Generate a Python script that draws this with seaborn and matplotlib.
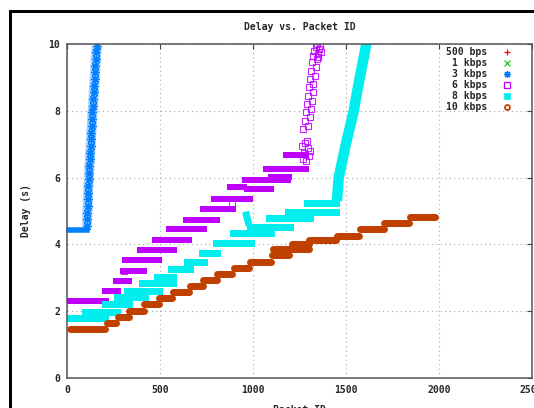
import matplotlib
matplotlib.use("Agg")
import matplotlib.pyplot as plt
from matplotlib.patches import Rectangle
import seaborn as sns
import pandas as pd

# ---------------- data ----------------
series_labels = ["500 bps", "1 kbps", "3 kbps", "6 kbps", "8 kbps", "10 kbps"]
series_colors = ["#ff0000", "#00c000", "#0080ff", "#c000ff", "#00eeee", "#c04000"]

# 10 kbps : staircase segments (start id, end id, delay)
k10_x0 = [16, 216, 275, 332, 413, 494, 571, 661, 733, 808, 898, 985, 1101, 1106, 1209, 1300, 1452, 1578, 1707, 1844]
k10_x1 = [207, 266, 333, 414, 494, 566, 656, 733, 805, 890, 979, 1096, 1195, 1303, 1300, 1446, 1572, 1707, 1842, 1980]
k10_y = [1.46, 1.66, 1.84, 2.02, 2.22, 2.39, 2.57, 2.74, 2.93, 3.11, 3.30, 3.48, 3.67, 3.85, 4.02, 4.12, 4.26, 4.45, 4.65, 4.82]

# 8 kbps : staircase segments
k8_x0 = [16, 98, 206, 269, 323, 404, 486, 557, 647, 724, 799, 891, 985, 1089, 1191, 1290, 965]
k8_x1 = [207, 270, 333, 417, 494, 572, 572, 661, 737, 805, 988, 1096, 1200, 1308, 1446, 1446, 975]
k8_y0 = [1.79, 1.99, 2.21, 2.43, 2.61, 2.84, 3.03, 3.25, 3.48, 3.73, 4.03, 4.33, 4.53, 4.78, 4.98, 5.23, 4.88]
k8_y1 = [1.79, 1.99, 2.21, 2.43, 2.61, 2.84, 3.03, 3.25, 3.48, 3.73, 4.03, 4.33, 4.53, 4.78, 4.98, 5.23, 4.66]
# 8 kbps : final steep rise
k8_rise_x = [1452, 1462, 1500, 1543, 1560, 1572, 1614]
k8_rise_y = [5.30, 6.00, 7.00, 8.00, 8.55, 8.90, 10.10]

# 6 kbps : staircase segments
k6_x0 = [14, 204, 264, 300, 312, 393, 474, 551, 639, 731, 789, 875, 968, 956, 1099, 1072, 1177]
k6_x1 = [209, 272, 335, 416, 496, 574, 658, 739, 807, 892, 982, 951, 1095, 1188, 1197, 1287, 1287]
k6_y = [2.31, 2.61, 2.91, 3.21, 3.53, 3.83, 4.13, 4.45, 4.74, 5.05, 5.35, 5.71, 5.65, 5.93, 6.03, 6.26, 6.68]
# 6 kbps : scattered squares
k6_sq_x = [304, 888,
           1262, 1282, 1298, 1276, 1300, 1288, 1268, 1308, 1290,
           1272, 1298, 1280, 1306, 1284, 1312, 1290, 1318, 1296, 1322, 1300, 1326, 1306,
           1332, 1312, 1338, 1318, 1344, 1324, 1350, 1330, 1356, 1338, 1362, 1344, 1352, 1366]
k6_sq_y = [3.21, 5.23,
           6.95, 7.05, 6.90, 6.75, 6.65, 6.50, 6.55, 6.80, 7.10,
           7.45, 7.55, 7.70, 7.80, 7.95, 8.05, 8.20, 8.30, 8.45, 8.55, 8.70, 8.80, 8.95,
           9.05, 9.20, 9.30, 9.45, 9.55, 9.65, 9.70, 9.80, 9.85, 9.90, 9.95, 10.00, 9.60, 9.75]

# 3 kbps : flat start then steep rise
k3_x0 = [10]
k3_x1 = [108]
k3_y = [4.43]
k3_rise_x = [107, 108, 110, 111, 112, 114, 115, 117, 119, 121, 123, 125, 127, 129,
             131, 133, 135, 137, 140, 142, 144, 146, 148, 151, 153, 155, 157, 160]
k3_rise_y = [4.55, 4.75, 4.95, 5.15, 5.35, 5.55, 5.75, 5.95, 6.15, 6.35, 6.55, 6.75, 6.95, 7.15,
             7.35, 7.55, 7.75, 7.95, 8.15, 8.35, 8.55, 8.75, 8.95, 9.15, 9.35, 9.55, 9.75, 9.95]

x_ticks = [0, 500, 1000, 1500, 2000, 2500]
y_ticks = [0, 2, 4, 6, 8, 10]

# ---------------- helpers ----------------
def seg_frame(x0, x1, y0, y1=None):
    if y1 is None:
        y1 = y0
    rows = []
    for i, (a, b, c, d) in enumerate(zip(x0, x1, y0, y1)):
        rows.append({"seg": i, "x": a, "y": c})
        rows.append({"seg": i, "x": b, "y": d})
    return pd.DataFrame(rows)

# ---------------- figure ----------------
sns.set_style("white")
FONT = ["DejaVu Sans Mono", "DejaVu Sans"]
plt.rcParams["font.family"] = FONT
plt.rcParams["font.weight"] = "bold"
plt.rcParams["font.size"] = 7

W, H = 534, 408
fig = plt.figure(figsize=(W / 100, H / 100), dpi=100)
fig.patch.set_facecolor("white")
ax = fig.add_axes([67 / W, (H - 378) / H, (531.7 - 67) / W, (378 - 44) / H])
ax.set_facecolor("white")

PX = 0.72  # points per pixel

# 6 kbps bars
sns.lineplot(data=seg_frame(k6_x0, k6_x1, k6_y), x="x", y="y", units="seg", estimator=None,
             sort=False, color=series_colors[3], lw=6 * PX, solid_capstyle="projecting",
             legend=False, ax=ax, clip_on=False, zorder=3)
# 8 kbps bars
sns.lineplot(data=seg_frame(k8_x0, k8_x1, k8_y0, k8_y1), x="x", y="y", units="seg", estimator=None,
             sort=False, color=series_colors[4], lw=7 * PX, solid_capstyle="projecting",
             legend=False, ax=ax, clip_on=False, zorder=4)
sns.lineplot(x=k8_rise_x, y=k8_rise_y, sort=False, estimator=None, color=series_colors[4],
             lw=10.5 * PX, solid_capstyle="butt", legend=False, ax=ax, zorder=4)
# 10 kbps bars
sns.lineplot(data=seg_frame(k10_x0, k10_x1, k10_y), x="x", y="y", units="seg", estimator=None,
             sort=False, color=series_colors[5], lw=7 * PX, solid_capstyle="round",
             legend=False, ax=ax, clip_on=False, zorder=5)
# 6 kbps squares
ax.plot(k6_sq_x, k6_sq_y, ls="none", marker="s", ms=4.6, mfc="none",
        mec=series_colors[3], mew=0.8, zorder=3, alpha=0.85)
# 3 kbps
sns.lineplot(data=seg_frame(k3_x0, k3_x1, k3_y), x="x", y="y", units="seg", estimator=None,
             sort=False, color=series_colors[2], lw=5.5 * PX, solid_capstyle="projecting",
             legend=False, ax=ax, clip_on=False, zorder=3)
sns.lineplot(x=k3_rise_x, y=k3_rise_y, sort=False, estimator=None, color="#a8d0ff",
             lw=10 * PX, solid_capstyle="butt", legend=False, ax=ax, zorder=3)
ax.plot(k3_rise_x, k3_rise_y, ls="none", marker=(8, 2, 0), ms=6.5,
        mec=series_colors[2], mew=0.9, zorder=3)

# ---------------- axes styling ----------------
ax.set_xlim(0, 2500)
ax.set_ylim(0, 10)
ax.set_xticks(x_ticks)
ax.set_yticks(y_ticks)
ax.set_xticklabels([str(t) for t in x_ticks])
ax.set_yticklabels([str(t) for t in y_ticks])
ax.tick_params(direction="in", length=3.5, width=0.8, color="#404040",
               top=True, right=True, labelsize=7, pad=5)
for lab in ax.get_xticklabels() + ax.get_yticklabels():
    lab.set_fontweight("bold")
for sp in ax.spines.values():
    sp.set_color("#555555")
    sp.set_linewidth(1.1)
    sp.set_zorder(6)
ax.grid(True, color="#a8a8a8", linestyle=(0, (1, 3)), linewidth=0.8)
ax.set_axisbelow(True)

ax.set_xlabel("Packet ID", fontsize=7, fontweight="bold")
ax.set_ylabel("Delay (s)", fontsize=7, fontweight="bold")
ax.xaxis.set_label_coords(0.5, -(405 - 378) / 334)
ax.yaxis.set_label_coords((31 - 67) / 464.7, 0.5)
ax.text(0.5, (378 - 27) / 334, "Delay vs. Packet ID", transform=ax.transAxes,
        ha="center", va="center", fontsize=7, fontweight="bold")

# ---------------- key ----------------
key_markers = [
    dict(marker="+", ms=5, mew=0.9, mec=series_colors[0]),
    dict(marker="x", ms=4.5, mew=0.8, mec=series_colors[1]),
    dict(marker=(8, 2, 0), ms=5, mew=0.9, mec=series_colors[2]),
    dict(marker="s", ms=4.2, mew=0.9, mfc="none", mec=series_colors[3]),
    dict(marker="s", ms=4.5, mew=0.5, mfc=series_colors[4], mec=series_colors[4]),
    dict(marker="o", ms=3.6, mew=1.3, mfc="none", mec=series_colors[5]),
]
for i, (lab, mk) in enumerate(zip(series_labels, key_markers)):
    ypx = 51.7 + 11 * i
    yax = (378 - ypx) / 334
    ax.text((487 - 67) / 464.7, yax, lab, transform=ax.transAxes, ha="right",
            va="center", fontsize=7, fontweight="bold")
    ax.plot([(507 - 67) / 464.7], [yax], transform=ax.transAxes, ls="none",
            clip_on=False, zorder=7, **mk)

# outer black frame (extends past the visible crop)
fig.add_artist(Rectangle((9.7 / W, -0.2), 2.0, (H - 10.7) / H + 0.2, transform=fig.transFigure,
                         fill=False, ec="black", lw=3 * PX))

fig.savefig("out.png", dpi=100, facecolor="white")
